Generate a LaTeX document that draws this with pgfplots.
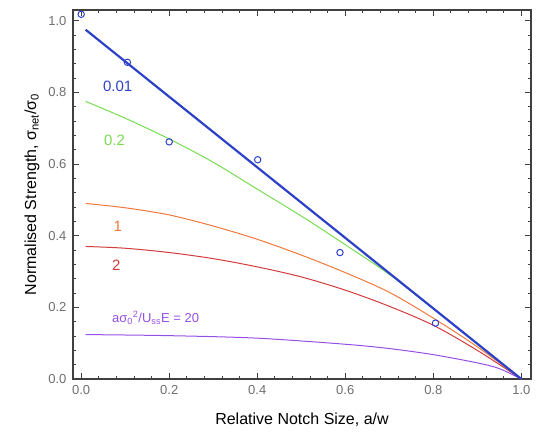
\documentclass[border=0pt]{standalone}
\usepackage{pgfplots}
\pgfplotsset{compat=1.18}
\usepackage{fontspec}
\setmainfont{Liberation Sans}
\definecolor{cblue}{RGB}{45,65,200}
\definecolor{cgreen}{RGB}{120,220,80}
\definecolor{corange}{RGB}{240,120,60}
\definecolor{cred}{RGB}{210,60,60}
\definecolor{cpurple}{RGB}{150,80,230}
\definecolor{tickgray}{RGB}{110,110,110}
\begin{document}
\begin{tikzpicture}
\begin{axis}[
  scale only axis,
  width=458pt, height=369pt,
  xmin=-0.0186, xmax=1.022,
  ymin=0, ymax=1.03,
  xtick={0,0.2,0.4,0.6,0.8,1.0},
  ytick={0,0.2,0.4,0.6,0.8,1.0},
  minor tick num=4,
  tick align=inside,
  major tick length=6pt,
  minor tick length=3pt,
  axis line style={draw=black!75, line width=1.2pt},
  every tick/.style={black!75, line width=0.9pt},
  /pgf/number format/assume math mode=true,
  /pgf/number format/.cd, fixed, fixed zerofill, precision=1, /pgfplots/.cd,
  tick label style={font=\fontsize{13}{13}\selectfont, text=tickgray},
  xticklabel style={yshift=-3pt},
  yticklabel style={xshift=-3pt},
  xlabel={Relative Notch Size, a/w},
  ylabel={Normalised Strength, σ\textsubscript{net}/σ\textsubscript{0}},
  every axis x label/.style={at={(axis description cs:0.5,-0.111)}, anchor=center, font=\fontsize{16}{16}\selectfont},
  every axis y label/.style={at={(axis description cs:-0.0895,0.5)}, rotate=90, anchor=center, font=\fontsize{16}{16}\selectfont},
  clip=false,
]
% a sigma^2/UE = 20 (purple)
\addplot[cpurple, line width=1pt, smooth] coordinates {
 (0.01,0.124) (0.2,0.121) (0.4,0.114) (0.6,0.097) (0.7,0.085) (0.8,0.068) (0.9,0.045) (0.95,0.029) (1.0,0.0)};
% 2 (red)
\addplot[cred, line width=1pt, smooth] coordinates {
 (0.01,0.370) (0.1,0.365) (0.2,0.353) (0.3,0.336) (0.4,0.313) (0.5,0.285) (0.6,0.248) (0.7,0.203) (0.8,0.150) (0.9,0.080) (1.0,0.0)};
% 1 (orange)
\addplot[corange, line width=1pt, smooth] coordinates {
 (0.01,0.490) (0.1,0.478) (0.2,0.458) (0.3,0.427) (0.4,0.390) (0.5,0.346) (0.6,0.297) (0.7,0.242) (0.8,0.170) (0.9,0.090) (1.0,0.0)};
% 0.2 (green)
\addplot[cgreen, line width=1pt, smooth] coordinates {
 (0.01,0.775) (0.1,0.728) (0.2,0.670) (0.3,0.605) (0.4,0.530) (0.5,0.455) (0.6,0.375) (0.7,0.292) (0.8,0.197) (0.9,0.098) (1.0,0.0)};
% 0.01 (blue)
\addplot[cblue, line width=2.2pt] coordinates {(0.01,0.975) (1.0,0.0)};
% data points
\addplot[only marks, mark=o, mark size=3.2pt, cblue, mark options={line width=1pt}] coordinates {
 (0.0,1.018) (0.105,0.884) (0.2,0.662) (0.401,0.612) (0.588,0.353) (0.805,0.156)};
\node[cblue, font=\fontsize{15}{15}\selectfont] at (axis cs:0.083,0.818) {0.01};
\node[cgreen, font=\fontsize{15}{15}\selectfont] at (axis cs:0.076,0.665) {0.2};
\node[corange, font=\fontsize{15}{15}\selectfont] at (axis cs:0.083,0.425) {1};
\node[cred, font=\fontsize{15}{15}\selectfont] at (axis cs:0.08,0.318) {2};
\node[cpurple, font=\fontsize{13}{13}\selectfont] at (axis cs:0.169,0.17) {aσ\textsubscript{0}\textsuperscript{2}/U\textsubscript{ss}E = 20};
\end{axis}
\pgfresetboundingbox
\path (-73pt,-53pt) rectangle (469pt,379pt);
\end{tikzpicture}
\end{document}
